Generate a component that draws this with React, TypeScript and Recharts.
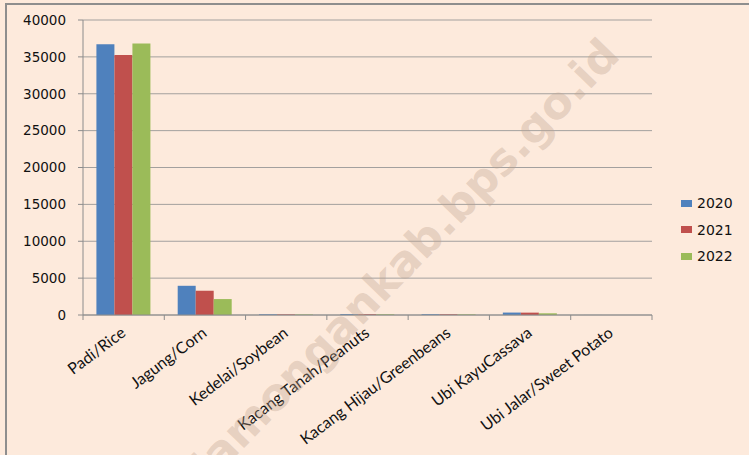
import React from "react";
import { BarChart, Bar, XAxis, YAxis, CartesianGrid } from "recharts";

const categories = [
  "Padi/Rice",
  "Jagung/Corn",
  "Kedelai/Soybean",
  "Kacang Tanah/Peanuts",
  "Kacang Hijau/Greenbeans",
  "Ubi KayuCassava",
  "Ubi Jalar/Sweet Potato",
];
const values2020 = [36700, 3960, 90, 110, 100, 330, 5];
const values2021 = [35270, 3290, 80, 100, 90, 320, 4];
const values2022 = [36800, 2160, 70, 90, 80, 230, 3];
const yTicks = [0, 5000, 10000, 15000, 20000, 25000, 30000, 35000, 40000];
const seriesNames = ["2020", "2021", "2022"];
const seriesColors = ["#4F81BD", "#C0504D", "#9BBB59"];

const data = categories.map((name, i) => ({
  name,
  "2020": values2020[i],
  "2021": values2021[i],
  "2022": values2022[i],
}));

const BG = "#FDEADC";
const AXIS = "#8C8C8C";

function CategoryTick(props: any) {
  const { x, y, payload, index, visibleTicksCount } = props;
  const half = payload?.offset ?? 0;
  const last = index === visibleTicksCount - 1;
  const tx = x + 3;
  const ty = y + 15;
  return (
    <g>
      <line x1={x - half} x2={x - half} y1={y - 5} y2={y} stroke={AXIS} />
      {last && (
        <line x1={x + half} x2={x + half} y1={y - 5} y2={y} stroke={AXIS} />
      )}
      <text
        x={tx}
        y={ty}
        textAnchor="end"
        fontFamily="Lato"
        fontSize={16}
        fill="#111"
        transform={`rotate(-37 ${tx} ${ty})`}
      >
        {payload.value}
      </text>
    </g>
  );
}

function LegendBox() {
  return (
    <div
      style={{
        position: "absolute",
        left: 681,
        top: 190,
        fontFamily: "DejaVu Sans",
        fontSize: 14,
        color: "#111",
      }}
    >
      {seriesNames.map((s, i) => (
        <div
          key={s}
          style={{ display: "flex", alignItems: "center", height: 26.5 }}
        >
          <span
            style={{
              display: "inline-block",
              width: 11,
              height: 7,
              background: seriesColors[i],
              marginRight: 5,
            }}
          />
          {s}
        </div>
      ))}
    </div>
  );
}

export default function App() {
  return (
    <div
      style={{
        position: "absolute",
        left: 0,
        top: 0,
        width: 749,
        height: 455,
        background: BG,
        overflow: "hidden",
      }}
    >
      <div
        style={{
          position: "absolute",
          left: 5,
          top: 3,
          width: 900,
          height: 600,
          borderTop: "2px solid #8E8E8E",
          borderLeft: "2px solid #8E8E8E",
        }}
      />
      <div style={{ position: "absolute", left: 0, top: 0 }}>
        <BarChart
          width={749}
          height={455}
          data={data}
          margin={{ top: 20, right: 97, bottom: 0, left: 0 }}
          barCategoryGap="16.5%"
          barGap={0}
        >
          <CartesianGrid vertical={false} stroke="#A3A09E" />
          <XAxis
            dataKey="name"
            interval={0}
            height={140}
            tickSize={5}
            tickMargin={0}
            tickLine={false}
            axisLine={{ stroke: AXIS }}
            tick={<CategoryTick />}
          />
          <YAxis
            width={83}
            domain={[0, 40000]}
            ticks={yTicks}
            tickSize={5}
            tickMargin={12}
            axisLine={{ stroke: AXIS }}
            tickLine={{ stroke: AXIS }}
            tick={{ fontFamily: "DejaVu Sans", fontSize: 13.5, fill: "#111" }}
            interval={0}
          />
          {seriesNames.map((s, i) => (
            <Bar
              key={s}
              dataKey={s}
              fill={seriesColors[i]}
              isAnimationActive={false}
            />
          ))}
        </BarChart>
      </div>
      <LegendBox />
      <svg
        width={749}
        height={455}
        style={{ position: "absolute", left: 0, top: 0, pointerEvents: "none" }}
      >
        <text
          x={350}
          y={316}
          textAnchor="middle"
          dominantBaseline="central"
          fontFamily="DejaVu Sans"
          fontWeight="bold"
          fontSize={44}
          fill="rgba(190,163,143,0.37)"
          textLength={750}
          lengthAdjust="spacingAndGlyphs"
          transform="rotate(-46 350 316)"
        >
          http://lamongankab.bps.go.id
        </text>
      </svg>
    </div>
  );
}
